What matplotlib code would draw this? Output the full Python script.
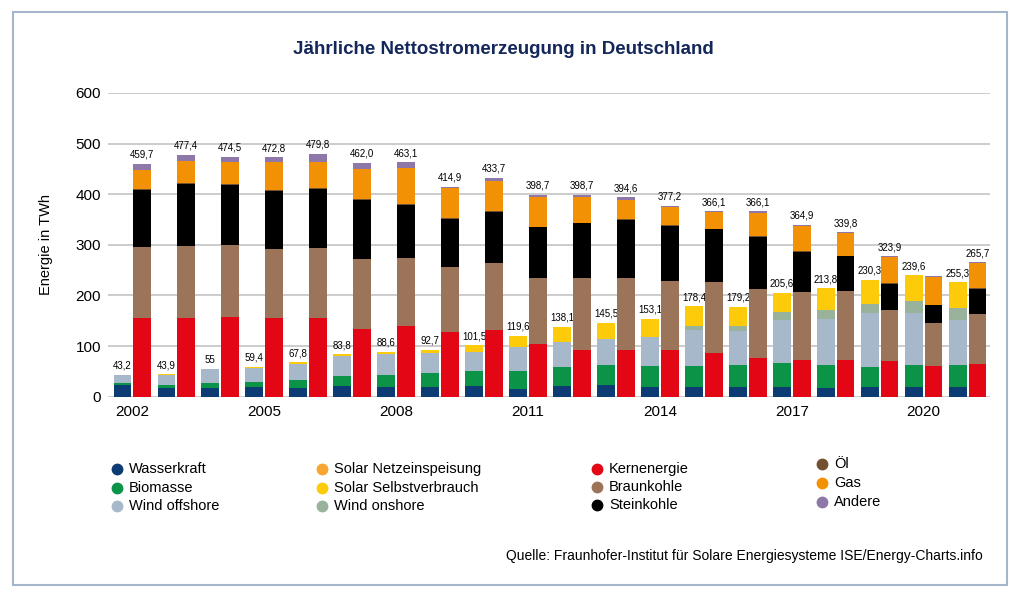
import matplotlib
matplotlib.use("Agg")
import matplotlib.pyplot as plt
from matplotlib.lines import Line2D
from matplotlib.patches import Rectangle
import numpy as np

plt.rcParams["font.family"] = ["Liberation Sans", "DejaVu Sans"]

years = list(range(2002, 2022))

# renewables (left bar of each year), TWh
wasserkraft = [22, 17.5, 17.5, 18.5, 17.8, 20.8, 18, 18, 21, 16, 21, 22, 19.5, 19, 19, 19.5, 16.5, 19, 19, 19]
biomasse = [5, 5.5, 9.5, 9.5, 15.5, 19.5, 25, 28, 30, 35, 38, 40, 41, 40.5, 43, 46, 46, 40, 43, 43]
wind_offshore = [16, 20.5, 27.3, 29.5, 31.5, 39.5, 41, 40, 38, 46.2, 49.5, 51, 57, 73, 67.5, 86, 91, 105.5, 104, 89]
wind_onshore = [0, 0, 0, 0, 0, 0, 0, 0, 0, 0, 0, 0, 0, 8, 10.5, 15, 17, 18.5, 23, 24.5]
solar_selbst = [0.2, 0.4, 0.7, 1.9, 3, 4, 4.6, 6.7, 12.5, 22.4, 29.6, 32.5, 35.6, 37.9, 37.5, 39.1, 43.3, 47.3, 50.6, 50]

# conventional (right bar of each year), TWh
kernenergie = [156, 156, 158, 156, 156, 133, 140, 128, 131.5, 103, 93, 93, 93, 86.5, 77, 72, 72, 71, 60.5, 65]
braunkohle = [139, 142, 141, 135, 137, 138, 134.5, 129, 132, 132, 142, 142, 136, 139, 135.5, 134, 136, 101, 84, 99]
steinkohle = [113, 122.5, 120, 115.5, 117, 118.5, 105, 93.5, 102, 99.5, 107.5, 114, 108, 105.5, 103.5, 80, 69, 51, 36, 49]
oel = [1.5, 1.5, 1.5, 1.5, 1.5, 1.5, 1.5, 1.5, 1.5, 1.5, 1.5, 1.5, 1.5, 1, 1, 1, 1, 1, 1, 1]
gas = [38.5, 44, 43.5, 55, 53, 58.5, 71.5, 59.5, 60, 58, 50, 38.5, 35.5, 32, 46.5, 51, 45, 52, 55, 50]
andere = [11.7, 11.4, 10.5, 9.8, 15.3, 12.5, 10.6, 3.4, 5, 4.5, 4.5, 4.5, 3, 2, 2.5, 2, 1.5, 1, 1.5, 1.5]

ren_labels = ["43,2", "43,9", "55", "59,4", "67,8", "83,8", "88,6", "92,7", "101,5", "119,6",
              "138,1", "145,5", "153,1", "178,4", "179,2", "205,6", "213,8", "230,3", "239,6", "255,3"]
conv_labels = ["459,7", "477,4", "474,5", "472,8", "479,8", "462,0", "463,1", "414,9", "433,7", "398,7",
               "398,7", "394,6", "377,2", "366,1", "366,1", "364,9", "339,8", "323,9", "", "265,7"]

tick_years = [2002, 2005, 2008, 2011, 2014, 2017, 2020]
y_ticks = [0, 100, 200, 300, 400, 500, 600]

COLORS = {
    "Wasserkraft": "#0d3b73",
    "Biomasse": "#0b9447",
    "Wind offshore": "#a6b8ca",
    "Wind onshore": "#98b29c",
    "Solar Selbstverbrauch": "#fdcb0a",
    "Solar Netzeinspeisung": "#f6a631",
    "Kernenergie": "#e30614",
    "Braunkohle": "#9c7459",
    "Steinkohle": "#000000",
    "Öl": "#73502f",
    "Gas": "#f29104",
    "Andere": "#8e78a9",
}

ren_stack = [
    ("Wasserkraft", wasserkraft),
    ("Biomasse", biomasse),
    ("Wind offshore", wind_offshore),
    ("Wind onshore", wind_onshore),
    ("Solar Selbstverbrauch", solar_selbst),
]
conv_stack = [
    ("Kernenergie", kernenergie),
    ("Braunkohle", braunkohle),
    ("Steinkohle", steinkohle),
    ("Öl", oel),
    ("Gas", gas),
    ("Andere", andere),
]

fig = plt.figure(figsize=(10.24, 6), dpi=100)
ax = fig.add_axes([0.1055, 0.339, 0.861, 0.506])

x = np.arange(len(years))
width = 0.4
offset = 0.225


def draw_stack(ax, xpos, stack, labels):
    bottom = np.zeros(len(xpos))
    for name, vals in stack:
        vals = np.array(vals, dtype=float)
        ax.bar(xpos, vals, width, bottom=bottom, color=COLORS[name], linewidth=0, zorder=3)
        bottom += vals
    for xi, top, lab in zip(xpos, bottom, labels):
        if lab:
            ax.annotate(lab, (xi, top), xytext=(0, 3), textcoords="offset points",
                        ha="center", va="bottom", fontsize=7)


draw_stack(ax, x - offset, ren_stack, ren_labels)
draw_stack(ax, x + offset, conv_stack, conv_labels)

ax.set_xlim(-0.55, 19.5)
ax.set_ylim(0, 600)
ax.set_yticks(y_ticks)
ax.set_xticks([years.index(y) for y in tick_years])
ax.set_xticklabels([str(y) for y in tick_years], fontsize=11)
ax.tick_params(axis="y", labelsize=11, length=0, pad=5)
ax.tick_params(axis="x", length=0, pad=6)
ax.grid(axis="y", color="#c4c4c4", linewidth=1.2, zorder=0)
ax.set_axisbelow(True)
for s in ax.spines.values():
    s.set_visible(False)
ax.set_ylabel("Energie in TWh", fontsize=10.5, labelpad=16)

fig.text(0.492, 0.917, "Jährliche Nettostromerzeugung in Deutschland",
         ha="center", va="center", fontsize=13.5, fontweight="bold", color="#14275a",
         family=["Liberation Sans Narrow", "Liberation Sans", "DejaVu Sans"])

# legend, four columns
legend_cols = [
    (117, [("Wasserkraft", 469), ("Biomasse", 488), ("Wind offshore", 506)]),
    (322, [("Solar Netzeinspeisung", 469), ("Solar Selbstverbrauch", 488), ("Wind onshore", 506)]),
    (597, [("Kernenergie", 469), ("Braunkohle", 487), ("Steinkohle", 505)]),
    (822, [("Öl", 464), ("Gas", 483), ("Andere", 502)]),
]
for mx, entries in legend_cols:
    for name, my in entries:
        fig.add_artist(Line2D([mx / 1024], [1 - my / 600], marker="o", markersize=7.5,
                              color=COLORS[name], linestyle="none", transform=fig.transFigure))
        fig.text((mx + 12) / 1024, 1 - my / 600, name, ha="left", va="center", fontsize=10.5)

fig.text(983 / 1024, 1 - 556 / 600,
         "Quelle: Fraunhofer-Institut für Solare Energiesysteme ISE/Energy-Charts.info",
         ha="right", va="center", fontsize=10)

fig.add_artist(Rectangle((13 / 1024, 1 - 585 / 600), 994 / 1024, 573 / 600, fill=False,
                         edgecolor="#a4b6c9", linewidth=1.5, transform=fig.transFigure))

fig.savefig("out.png", dpi=100)
plt.close(fig)
